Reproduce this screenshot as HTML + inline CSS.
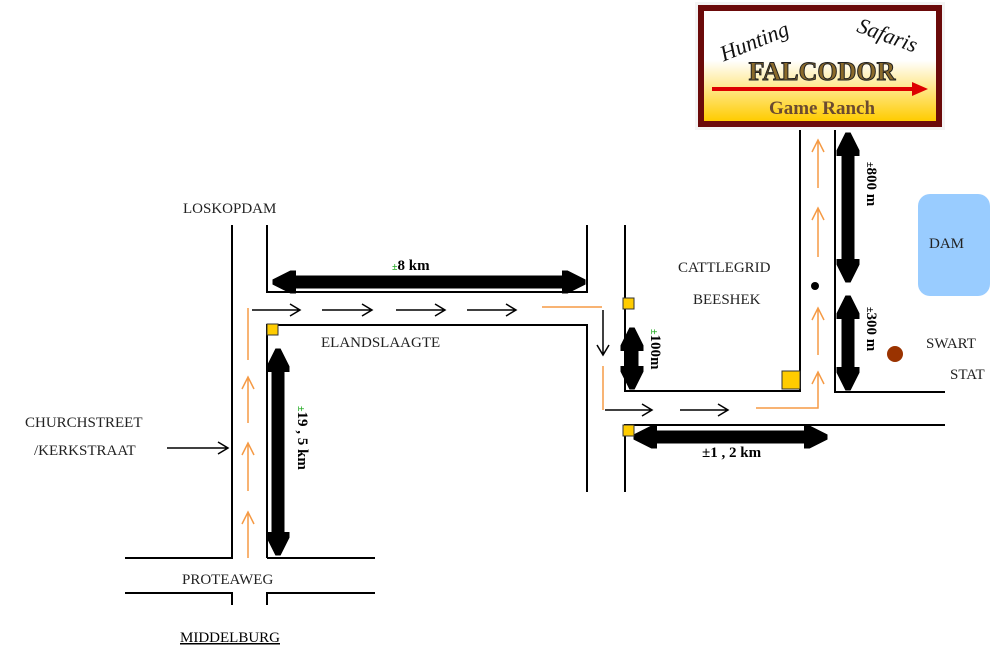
<!DOCTYPE html>
<html><head><meta charset="utf-8"><style>
html,body{margin:0;padding:0;background:#fff;}
svg{display:block;}
text{font-family:"Liberation Serif",serif;}
</style></head><body>
<svg width="993" height="647" viewBox="0 0 993 647" xmlns="http://www.w3.org/2000/svg">
<defs>
<marker id="bh" viewBox="0 0 10 10" refX="6" refY="5" markerWidth="1.8" markerHeight="1.8" orient="auto-start-reverse"><path d="M0,0 L10,5 L0,10 Z" fill="#000" stroke="#000" stroke-width="2" stroke-linejoin="round"/></marker>
<linearGradient id="lg" x1="0" y1="0" x2="0" y2="1"><stop offset="0" stop-color="#fff"/><stop offset="0.45" stop-color="#fff"/><stop offset="1" stop-color="#ffcc00"/></linearGradient>
</defs>
<g stroke="#000" stroke-width="2" fill="none">
<path d="M232,225 V558 H125"/>
<path d="M267,225 V292 H587 V225"/>
<path d="M267,558 V325 H587 V492"/>
<path d="M375,558 H267"/>
<path d="M125,593 H232 V605"/>
<path d="M375,593 H267 V605"/>
<path d="M625,225 V391 H800 V128"/>
<path d="M835,128 V392 H945"/>
<path d="M945,425 H625 V492"/>
</g>
<g stroke="#000" stroke-width="13" fill="none" marker-start="url(#bh)" marker-end="url(#bh)">
<line x1="282" y1="282" x2="576" y2="282"/>
<line x1="278" y1="358" x2="278" y2="546"/>
<line x1="632" y1="337" x2="632" y2="380"/>
<line x1="643" y1="437" x2="818" y2="437"/>
<line x1="848" y1="142" x2="848" y2="273"/>
<line x1="848" y1="305" x2="848" y2="381"/>
</g>
<g stroke="#000" stroke-width="1.5" fill="none">
<path d="M252,310 H300 M290,304 L300,310 L290,316"/>
<path d="M322,310 H372 M362,304 L372,310 L362,316"/>
<path d="M396,310 H445 M435,304 L445,310 L435,316"/>
<path d="M467,310 H516 M506,304 L516,310 L506,316"/>
<path d="M603,310 V355 M597,345 L603,355 L609,345"/>
<path d="M605,410 H652 M642,404 L652,410 L642,416"/>
<path d="M680,410 H728 M718,404 L728,410 L718,416"/>
<path d="M167,448 H228 M218,442 L228,448 L218,454"/>
</g>
<g stroke="#f59a45" stroke-width="1.5" fill="none">
<path d="M248,308 V360"/>
<path d="M248,377 V423 M242,389 L248,377 L254,389"/>
<path d="M248,443 V491 M242,455 L248,443 L254,455"/>
<path d="M248,512 V558 M242,524 L248,512 L254,524"/>
<path d="M542,307 H602"/>
<path d="M603,366 V410"/>
<path d="M756,408 H818 V372 M812,384 L818,372 L824,384"/>
<path d="M818,308 V355 M812,320 L818,308 L824,320"/>
<path d="M818,208 V257 M812,220 L818,208 L824,220"/>
<path d="M818,140 V188 M812,152 L818,140 L824,152"/>
</g>
<g fill="#ffcc00" stroke="#333" stroke-width="1">
<rect x="267" y="324" width="11" height="11"/>
<rect x="623" y="298" width="11" height="11"/>
<rect x="782" y="371" width="18" height="18"/>
<rect x="623" y="425" width="11" height="11"/>
</g>
<circle cx="815" cy="286" r="4" fill="#000"/>
<circle cx="895" cy="354" r="8" fill="#9a3300"/>
<rect x="918" y="194" width="72" height="102" rx="12" fill="#99ccff"/>
<rect x="695" y="2" width="250" height="128" fill="#f4f4f4"/>
<rect x="698" y="5" width="244" height="122" fill="#6b0a0a"/>
<rect x="704" y="11" width="232" height="110" fill="url(#lg)"/>
<text x="757" y="48" font-size="22" font-style="italic" transform="rotate(-22 757 48)" text-anchor="middle" fill="#111">Hunting</text>
<text x="885" y="42" font-size="22" font-style="italic" transform="rotate(20 885 42)" text-anchor="middle" fill="#111">Safaris</text>
<text x="822" y="80" font-size="26" font-weight="bold" text-anchor="middle" fill="#8a6a2a" stroke="#222" stroke-width="1">FALCODOR</text>
<path d="M712,89 H920" stroke="#d00" stroke-width="4"/>
<path d="M912,82 L928,89 L912,96 Z" fill="#d00"/>
<text x="822" y="114" font-size="19" font-weight="bold" text-anchor="middle" fill="#6b4a30">Game Ranch</text>
<g font-size="15" fill="#222">
<text x="183" y="213">LOSKOPDAM</text>
<text x="321" y="347">ELANDSLAAGTE</text>
<text x="678" y="272">CATTLEGRID</text>
<text x="693" y="304">BEESHEK</text>
<text x="929" y="248">DAM</text>
<text x="926" y="348">SWART</text>
<text x="950" y="379">STAT</text>
<text x="25" y="427">CHURCHSTREET</text>
<text x="34" y="455">/KERKSTRAAT</text>
<text x="182" y="584">PROTEAWEG</text>
<text x="180" y="642" text-decoration="underline" fill="#000">MIDDELBURG</text>
</g>
<g font-size="15" font-weight="bold" fill="#000">
<text x="392" y="270"><tspan fill="#2a2" font-size="10">±</tspan>8 km</text>
<text x="702" y="457">±1 , 2 km</text>
<text transform="translate(298,406) rotate(90)"><tspan fill="#2a2" font-size="10">±</tspan>19 , 5 km</text>
<text transform="translate(651,329) rotate(90)"><tspan fill="#2a2" font-size="10">±</tspan>100m</text>
<text transform="translate(867,162) rotate(90)"><tspan font-size="10">±</tspan>800 m</text>
<text transform="translate(867,307) rotate(90)"><tspan font-size="10">±</tspan>300 m</text>
</g>
</svg>
</body></html>
